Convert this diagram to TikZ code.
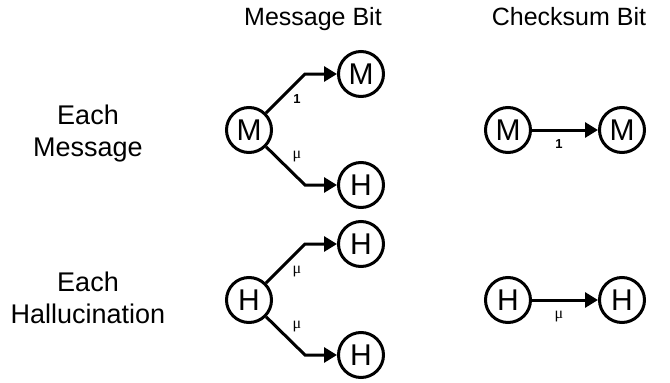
\documentclass[tikz,border=0pt]{standalone}
\usepackage{fontspec}
\setmainfont{Liberation Sans}
\newfontfamily\greekfont{Liberation Serif}
\usetikzlibrary{arrows.meta}

\begin{document}
\begin{tikzpicture}[x=1pt,y=-1pt,
    state/.style={draw,circle,line width=3pt,minimum size=45pt,inner sep=0pt,font=\fontsize{30}{32}\selectfont},
    arr/.style={line width=3pt,-{Triangle[length=13pt,width=15pt]}},
    heading/.style={anchor=base,font=\fontsize{25}{30}\selectfont},
    side/.style={align=center,font=\fontsize{27}{32}\selectfont},
    prob/.style={inner sep=0pt,font=\fontsize{13}{15}\selectfont\bfseries},
    muprob/.style={prob,font=\fontsize{16}{18}\selectfont\greekfont}]
    \useasboundingbox (0,0) rectangle (670,383);
    \node[heading](msgbit) at (313,25) {Message Bit};
    \node[heading](chkbit) at (569,25) {Checksum Bit};
    \node[side](eachM) at (88,134) {Each\\Message};
    \node[side](eachH) at (88,298) {Each\\Hallucination};
    \node[state](M0) at (249,130) {M};
    \node[state](M1) at (361,74) {M};
    \node[state](H1) at (361,185) {H};
    \node[state](H0) at (249,300) {H};
    \node[state](H2) at (361,244) {H};
    \node[state](H3) at (361,355) {H};
    \node[state](M2) at (508,130) {M};
    \node[state](M3) at (622,130) {M};
    \node[state](H4) at (508,300) {H};
    \node[state](H5) at (622,300) {H};
    \coordinate(k1) at (305,74);
    \coordinate(k2) at (305,185);
    \coordinate(k3) at (305,244);
    \coordinate(k4) at (305,355);
    \draw[arr](M0)--(k1)--(M1);
    \draw[arr](M0)--(k2)--(H1);
    \draw[arr](H0)--(k3)--(H2);
    \draw[arr](H0)--(k4)--(H3);
    \draw[arr](M2)--(M3);
    \draw[arr](H4)--(H5);
    \node[prob](p1) at (297,99) {1};
    \node[muprob](p2) at (297,157) {μ};
    \node[muprob](p3) at (297,272) {μ};
    \node[muprob](p4) at (297,327) {μ};
    \node[prob](p5) at (559,144) {1};
    \node[muprob](p6) at (559,317) {μ};
\end{tikzpicture}
\end{document}
